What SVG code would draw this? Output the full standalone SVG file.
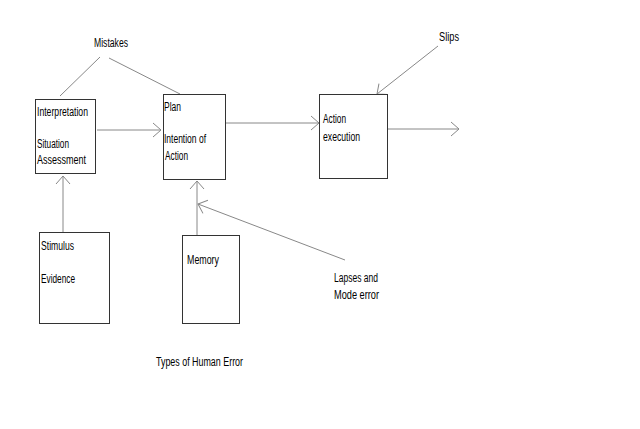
<svg xmlns="http://www.w3.org/2000/svg" width="640" height="429" viewBox="0 0 640 429">
<defs>
<marker id="chev" markerUnits="userSpaceOnUse" markerWidth="12" markerHeight="16" refX="9" refY="8" orient="auto">
<path d="M1,1 L9,8 L1,15" fill="none" stroke="#888" stroke-width="1"/>
</marker>
</defs>
<style>
.box{fill:#fff;stroke:#333;stroke-width:1}
.ln{fill:none;stroke:#888;stroke-width:1}
text{font-family:"Liberation Sans","DejaVu Sans",sans-serif;font-size:12px;fill:#000}
</style>
<rect width="640" height="429" fill="#fff"/>
<g id="connectors">
<line class="ln" x1="100" y1="57" x2="60" y2="96"/>
<line class="ln" x1="109" y1="58" x2="180" y2="94"/>
<line class="ln" x1="97" y1="130" x2="161" y2="130" marker-end="url(#chev)"/>
<line class="ln" x1="225" y1="123" x2="319" y2="123" marker-end="url(#chev)"/>
<line class="ln" x1="387" y1="129" x2="459" y2="129" marker-end="url(#chev)"/>
<line class="ln" x1="438" y1="46" x2="377" y2="94" marker-end="url(#chev)"/>
<line class="ln" x1="63" y1="232" x2="63" y2="176" marker-end="url(#chev)"/>
<line class="ln" x1="197" y1="235" x2="197" y2="181" marker-end="url(#chev)"/>
<line class="ln" x1="345" y1="260" x2="198" y2="204" marker-end="url(#chev)"/>
</g>
<g id="interpretation">
<rect class="box" x="35.5" y="99.5" width="60" height="74"/>
<text x="37" y="116" textLength="51" lengthAdjust="spacingAndGlyphs">Interpretation</text>
<text x="37" y="148" textLength="32" lengthAdjust="spacingAndGlyphs">Situation</text>
<text x="37" y="164" textLength="49" lengthAdjust="spacingAndGlyphs">Assessment</text>
</g>
<g id="plan">
<rect class="box" x="163.5" y="94.5" width="62" height="85"/>
<text x="164" y="111" textLength="17" lengthAdjust="spacingAndGlyphs">Plan</text>
<text x="164" y="143" textLength="42" lengthAdjust="spacingAndGlyphs">Intention of</text>
<text x="165" y="160" textLength="23" lengthAdjust="spacingAndGlyphs">Action</text>
</g>
<g id="action">
<rect class="box" x="319.5" y="94.5" width="68" height="84"/>
<text x="323" y="123" textLength="23" lengthAdjust="spacingAndGlyphs">Action</text>
<text x="323" y="141" textLength="37" lengthAdjust="spacingAndGlyphs">execution</text>
</g>
<g id="stimulus">
<rect class="box" x="39.5" y="232.5" width="70" height="91"/>
<text x="41" y="250" textLength="33" lengthAdjust="spacingAndGlyphs">Stimulus</text>
<text x="41" y="283" textLength="34" lengthAdjust="spacingAndGlyphs">Evidence</text>
</g>
<g id="memory">
<rect class="box" x="182.5" y="235.5" width="57" height="88"/>
<text x="187" y="264" textLength="32" lengthAdjust="spacingAndGlyphs">Memory</text>
</g>
<g id="mistakes">
<text x="94" y="47" textLength="34" lengthAdjust="spacingAndGlyphs">Mistakes</text>
</g>
<g id="slips">
<text x="439" y="41" textLength="20" lengthAdjust="spacingAndGlyphs">Slips</text>
</g>
<g id="lapses">
<text x="334" y="282" textLength="44" lengthAdjust="spacingAndGlyphs">Lapses and</text>
<text x="334" y="299" textLength="45" lengthAdjust="spacingAndGlyphs">Mode error</text>
</g>
<g id="title">
<text x="156" y="366" textLength="87" lengthAdjust="spacingAndGlyphs">Types of Human Error</text>
</g>
</svg>
